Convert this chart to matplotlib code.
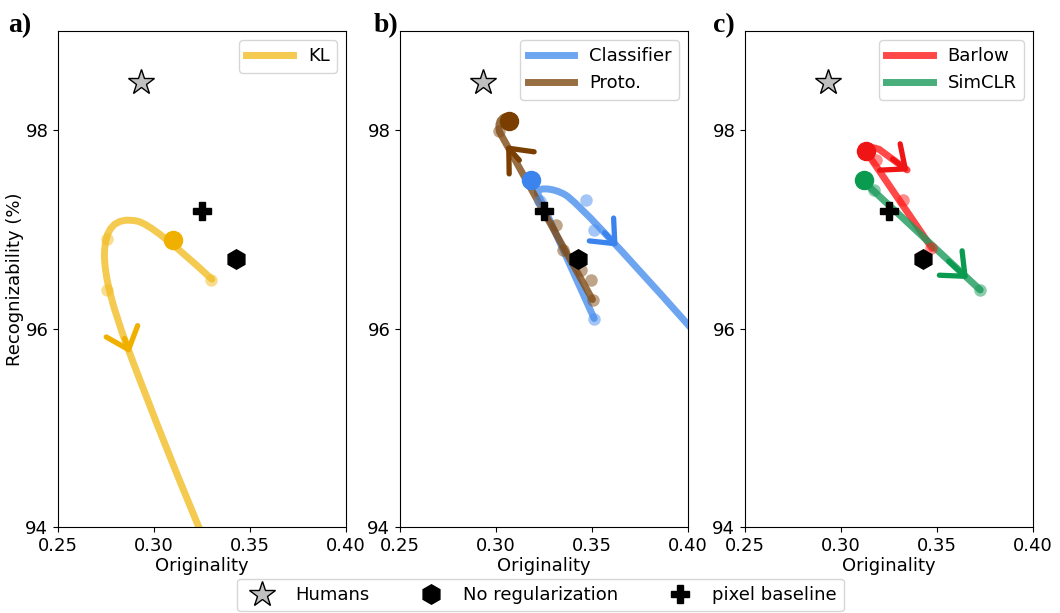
import matplotlib.pyplot as plt
from matplotlib.path import Path
from matplotlib.patches import PathPatch

# reference markers (same in every panel)
humans = (0.2935, 98.49)
no_reg = (0.343, 96.70)
pixel = (0.325, 97.19)

# smoothed trajectories: vertices + path codes
# (M = move, L = line, Q = quadratic bezier (ctrl, end), C = cubic (c1, c2, end))
kl_path = [(0.3302, 96.498), (0.2998, 97.046), (0.2915, 97.083), (0.2742, 97.158),
           (0.2742, 96.740), (0.2742, 96.422), (0.2868, 95.782), (0.3064, 94.774),
           (0.3273, 93.82)]
kl_codes = 'MQQQQQQQQ'
kl_pts_x = [0.330, 0.2757, 0.2757]
kl_pts_y = [96.495, 96.90, 96.394]
kl_big = (0.3101, 96.89)
kl_arrow = ((0.2847, 95.90), (0.2875, 95.75))

clf_path = [(0.3512, 96.102), (0.3218, 97.362), (0.3203, 97.425), (0.3294, 97.430),
            (0.3365, 97.345), (0.3452, 97.235), (0.3996, 96.051), (0.4057, 95.919)]
clf_codes = 'MLCCCQQL'
clf_pts_x = [0.3469, 0.3512, 0.3512, 0.3230]
clf_pts_y = [97.294, 96.992, 96.102, 97.29]
clf_big = (0.3184, 97.496)
clf_arrow = ((0.3566, 96.967), (0.3634, 96.827))

proto_path = [(0.3503, 96.293), (0.3019, 97.983), (0.3004, 98.10), (0.3045, 98.136)]
proto_codes = 'MLQQ'
proto_pts_x = [0.3016, 0.3314, 0.3349, 0.3444, 0.3496, 0.3504]
proto_pts_y = [97.993, 97.042, 96.79, 96.589, 96.488, 96.293]
proto_big = (0.3066, 98.094)
proto_arrow = ((0.3122, 97.698), (0.3053, 97.849))

barlow_path = [(0.3475, 96.81), (0.3148, 97.738), (0.3106, 97.869), (0.3199, 97.808),
               (0.3345, 97.60)]
barlow_codes = 'MLQQL'
barlow_pts_x = [0.3182, 0.3321, 0.3467]
barlow_pts_y = [97.70, 97.30, 96.81]
barlow_big = (0.3130, 97.79)
barlow_arrow = ((0.3269, 97.71), (0.3352, 97.585))

simclr_path = [(0.3122, 97.476), (0.3726, 96.39)]
simclr_codes = 'ML'
simclr_pts_x = [0.3173, 0.3726]
simclr_pts_y = [97.40, 96.39]
simclr_big = (0.3122, 97.50)
simclr_arrow = ((0.3562, 96.68), (0.3662, 96.50))

panels = [
    [("KL", kl_path, kl_codes, kl_pts_x, kl_pts_y, kl_big, kl_arrow, '#f2bd25', '#efb000')],
    [("Classifier", clf_path, clf_codes, clf_pts_x, clf_pts_y, clf_big, clf_arrow, '#4a8fee', '#3b84ee'),
     ("Proto.", proto_path, proto_codes, proto_pts_x, proto_pts_y, proto_big, proto_arrow, '#7f4a14', '#7a3f00')],
    [("Barlow", barlow_path, barlow_codes, barlow_pts_x, barlow_pts_y, barlow_big, barlow_arrow, '#ff1a1a', '#f01515'),
     ("SimCLR", simclr_path, simclr_codes, simclr_pts_x, simclr_pts_y, simclr_big, simclr_arrow, '#1a9a5a', '#0a9a50')],
]

code_map = {'M': Path.MOVETO, 'L': Path.LINETO, 'Q': Path.CURVE3, 'C': Path.CURVE4}

fig = plt.figure(figsize=(10.6, 6.13), dpi=100)
lefts = [58 / 1060, 400 / 1060, 745 / 1060]
letters = ['a)', 'b)', 'c)']
letter_x = [8 / 1060, 374 / 1060, 713 / 1060]

for i, series in enumerate(panels):
    ax = fig.add_axes([lefts[i], 0.1403, 0.2715, 0.809])
    for name, verts, codes, px, py, big, arr, c, cbig in series:
        path = Path(verts, [code_map[k] for k in codes])
        ax.add_patch(PathPatch(path, fill=False, edgecolor=c, lw=5, alpha=0.8,
                               capstyle='round', joinstyle='round', zorder=2))
        ax.plot([], [], color=c, lw=5, alpha=0.8, label=name)
        ax.plot(px, py, 'o', color=c, ms=9, alpha=0.5, mec='none', zorder=3)
        ax.plot(*big, 'o', color=cbig, ms=13, zorder=4)
        ax.annotate('', xy=arr[1], xytext=arr[0],
                    arrowprops=dict(arrowstyle='->,head_length=0.7,head_width=0.6',
                                    color=cbig, lw=3.8, mutation_scale=20,
                                    shrinkA=0, shrinkB=0), zorder=5)
    ax.plot(*humans, '*', ms=19, mfc='#c0c0c0', mec='black', mew=1, zorder=6)
    ax.plot(*no_reg, 'h', ms=14, color='black', zorder=6)
    ax.plot(*pixel, 'P', ms=13, color='black', zorder=6)
    ax.set_xlim(0.25, 0.40)
    ax.set_ylim(94, 99)
    ax.set_xticks([0.25, 0.30, 0.35, 0.40])
    ax.set_xticklabels(['0.25', '0.30', '0.35', '0.40'])
    ax.set_yticks([94, 96, 98])
    ax.tick_params(labelsize=13)
    ax.set_xlabel('Originality', fontsize=13, labelpad=2)
    if i == 0:
        ax.set_ylabel('Recognizability (%)', fontsize=13, labelpad=1)
    ax.legend(loc='upper right', fontsize=13, handlelength=2.6, borderpad=0.4)
    fig.text(letter_x[i], 0.948, letters[i], fontsize=20, fontweight='bold',
             family='Liberation Serif')

h1, = plt.plot([], [], '*', ms=19, mfc='#c0c0c0', mec='black', mew=1)
h2, = plt.plot([], [], 'h', ms=14, color='black')
h3, = plt.plot([], [], 'P', ms=13, color='black')
fig.legend([h1, h2, h3], ['Humans', 'No regularization', 'pixel baseline'],
           loc='lower center', bbox_to_anchor=(0.51, -0.012), ncol=3, fontsize=13,
           columnspacing=2.4, borderpad=0.4)

fig.savefig('out.png', dpi=100)
